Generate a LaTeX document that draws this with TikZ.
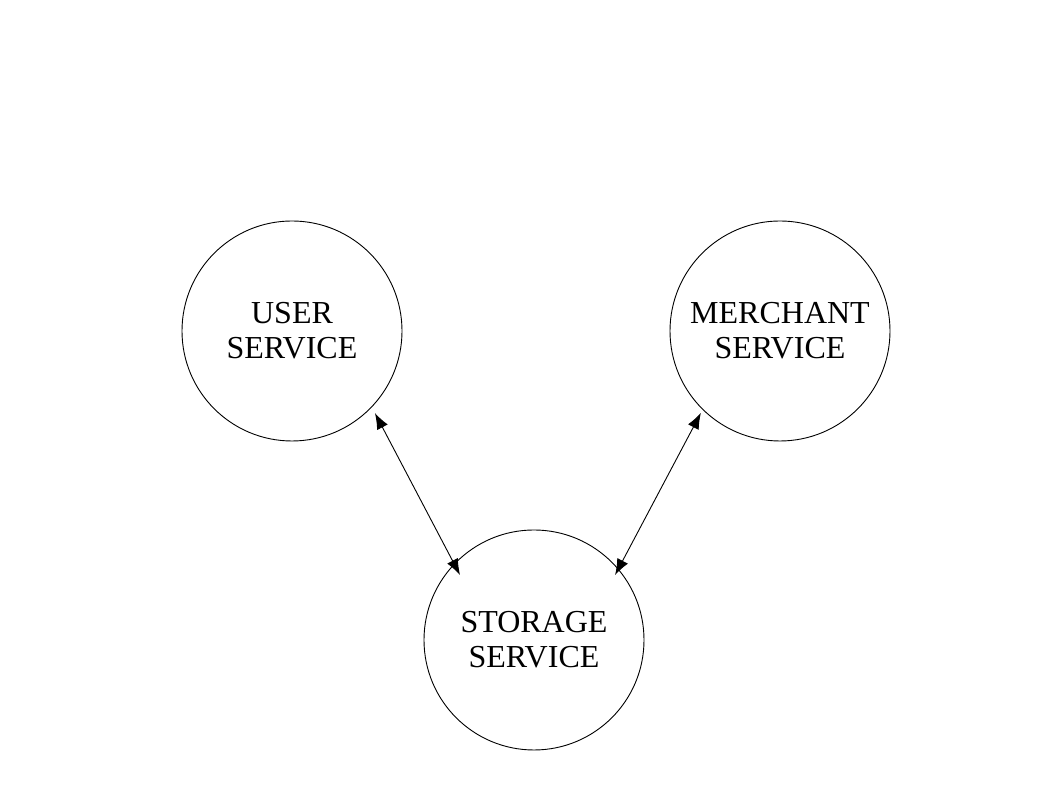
\documentclass[tikz,border=0pt]{standalone}
\usepackage{fontspec}
\setmainfont{Liberation Serif}
\usetikzlibrary{arrows.meta,calc}
\begin{document}
\begin{tikzpicture}[x=1pt,y=1pt,
  svc/.style={circle,draw,line width=0.9pt,minimum size=220pt,inner sep=0pt,align=center,
    font=\fontsize{32}{35}\selectfont},
  link/.style={line width=0.9pt,{Latex[length=16pt,width=12pt]}-{Latex[length=16pt,width=12pt]}}]
\useasboundingbox (0,0) rectangle (1058,794);
\node[svc] (user) at (292,463) {USER\\SERVICE};
\node[svc] (merchant) at (780,463) {MERCHANT\\SERVICE};
\node[svc] (storage) at (534,154) {STORAGE\\SERVICE};
\draw[link] ($(user.center)+(-44.7:116.7)$) -- ($(storage.center)+(138.7:98.5)$);
\draw[link] ($(merchant.center)+(-134:113.9)$) -- ($(storage.center)+(38.7:103.9)$);
\end{tikzpicture}
\end{document}
